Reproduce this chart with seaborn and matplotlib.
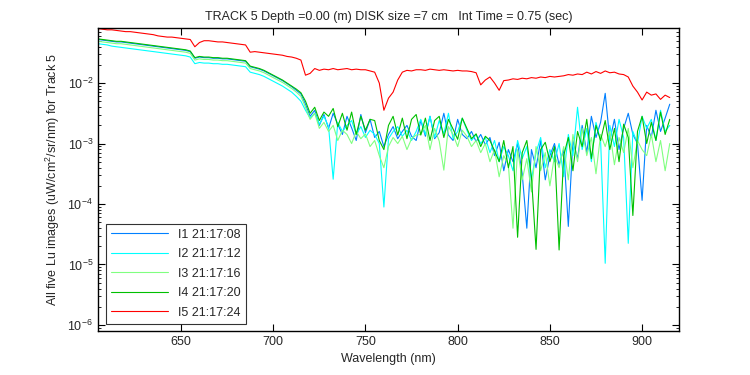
import numpy as np
import pandas as pd
import matplotlib
matplotlib.use("Agg")
import matplotlib.pyplot as plt
import seaborn as sns

# wavelength grid, 2.5 nm steps from 605 to 915
wavelength = np.arange(605, 915.1, 2.5)

# log10 of Lu for each image (rows of 25 nm)
I1 = [-1.28, -1.29, -1.30, -1.31, -1.32, -1.32, -1.33, -1.34, -1.35, -1.36,
      -1.37, -1.38, -1.39, -1.40, -1.41, -1.42, -1.43, -1.44, -1.45, -1.46,
      -1.48, -1.59, -1.57, -1.58, -1.58, -1.59, -1.59, -1.60, -1.60, -1.61,
      -1.62, -1.63, -1.64, -1.73, -1.75, -1.77, -1.80, -1.84, -1.88, -1.92,
      -1.96, -2.01, -2.06, -2.12, -2.18, -2.35, -2.55, -2.45, -2.70, -2.52,
      -2.75, -2.50, -2.68, -2.85, -2.55, -2.74, -2.95, -2.52, -2.82, -2.60,
      -2.90, -2.80, -3.05, -2.85, -2.72, -2.92, -2.80, -2.70, -2.88, -2.95,
      -2.62, -2.88, -2.55, -2.92, -2.82, -2.50, -2.86, -2.95, -2.60, -2.85,
      -2.92, -2.80, -2.97, -2.85, -3.02, -2.90, -3.20, -2.98, -3.45, -3.10,
      -3.30, -3.00, -3.50, -4.40, -3.10, -3.40, -2.95, -3.60, -3.20, -3.00,
      -3.35, -3.10, -4.37, -2.95, -3.25, -2.70, -3.15, -2.55, -2.90, -2.65,
      -2.17, -2.95, -2.60, -3.10, -2.75, -2.50, -2.85, -3.00, -3.94, -2.70,
      -2.90, -2.45, -2.80, -2.58, -2.35]
I2 = [-1.35, -1.36, -1.37, -1.39, -1.40, -1.41, -1.42, -1.43, -1.44, -1.45,
      -1.46, -1.47, -1.48, -1.49, -1.50, -1.51, -1.52, -1.53, -1.54, -1.55,
      -1.57, -1.68, -1.66, -1.67, -1.67, -1.68, -1.68, -1.69, -1.69, -1.70,
      -1.71, -1.72, -1.73, -1.82, -1.84, -1.86, -1.89, -1.93, -1.97, -2.01,
      -2.05, -2.10, -2.15, -2.22, -2.30, -2.45, -2.58, -2.50, -2.68, -2.55,
      -2.72, -3.59, -2.65, -2.80, -2.70, -2.62, -2.85, -2.72, -2.90, -2.78,
      -2.85, -3.00, -4.05, -2.92, -2.80, -2.72, -2.88, -2.78, -2.95, -2.80,
      -2.60, -2.85, -2.55, -2.90, -2.62, -2.84, -2.50, -2.92, -2.80, -2.58,
      -2.78, -2.95, -2.85, -3.00, -2.90, -3.15, -2.95, -3.30, -3.05, -3.20,
      -3.45, -2.95, -3.25, -3.05, -3.60, -3.15, -2.90, -3.40, -3.10, -3.30,
      -3.00, -3.55, -2.85, -3.20, -2.40, -3.10, -2.75, -3.30, -2.65, -2.95,
      -4.98, -2.70, -3.05, -2.60, -2.90, -4.65, -2.80, -3.00, -2.55, -2.75,
      -2.60, -2.95, -2.45, -2.80, -2.70]
I3 = [-1.31, -1.32, -1.33, -1.34, -1.35, -1.35, -1.36, -1.37, -1.38, -1.39,
      -1.40, -1.41, -1.42, -1.43, -1.44, -1.45, -1.46, -1.47, -1.48, -1.49,
      -1.51, -1.62, -1.60, -1.61, -1.61, -1.62, -1.62, -1.63, -1.63, -1.64,
      -1.65, -1.66, -1.67, -1.76, -1.78, -1.80, -1.83, -1.87, -1.91, -1.95,
      -1.99, -2.04, -2.09, -2.15, -2.22, -2.40, -2.60, -2.50, -2.75, -2.65,
      -2.80, -2.70, -2.95, -2.78, -2.85, -3.00, -2.80, -2.92, -2.84, -3.05,
      -2.95, -3.20, -3.40, -3.05, -2.90, -3.00, -2.88, -3.10, -2.92, -2.86,
      -2.85, -2.70, -3.10, -2.75, -2.96, -3.44, -2.72, -2.85, -3.05, -2.78,
      -2.88, -3.05, -2.95, -3.15, -3.00, -3.30, -3.10, -3.55, -3.20, -3.35,
      -4.40, -3.10, -3.60, -3.25, -3.80, -3.05, -3.45, -3.15, -3.70, -3.20,
      -3.40, -3.05, -3.60, -2.85, -3.30, -2.75, -3.20, -2.90, -3.50, -2.85,
      -3.05, -2.80, -3.35, -2.90, -3.15, -2.75, -3.40, -2.95, -3.10, -3.20,
      -2.85, -3.30, -2.95, -3.45, -3.00]
I4 = [-1.27, -1.28, -1.29, -1.30, -1.31, -1.31, -1.32, -1.33, -1.34, -1.35,
      -1.36, -1.37, -1.38, -1.39, -1.40, -1.41, -1.42, -1.43, -1.44, -1.45,
      -1.47, -1.58, -1.56, -1.57, -1.57, -1.58, -1.58, -1.59, -1.59, -1.60,
      -1.61, -1.62, -1.63, -1.72, -1.74, -1.76, -1.79, -1.83, -1.87, -1.91,
      -1.95, -2.00, -2.05, -2.10, -2.16, -2.30, -2.50, -2.40, -2.62, -2.48,
      -2.55, -2.42, -2.72, -2.50, -2.78, -2.48, -2.85, -2.55, -2.78, -2.60,
      -2.62, -2.95, -3.10, -2.70, -2.55, -2.86, -2.58, -2.92, -2.60, -2.52,
      -2.86, -2.58, -2.95, -2.62, -2.55, -2.90, -2.60, -2.76, -2.93, -2.58,
      -2.75, -2.92, -2.84, -3.05, -2.88, -2.95, -3.12, -3.30, -2.95, -3.40,
      -3.05, -4.55, -3.15, -2.95, -3.55, -4.75, -3.10, -2.98, -3.30, -3.05,
      -4.76, -3.20, -2.90, -3.45, -2.80, -3.05, -2.60, -3.25, -2.70, -2.95,
      -2.62, -3.10, -2.75, -3.30, -2.68, -2.90, -4.19, -2.80, -2.55, -3.00,
      -2.65, -2.95, -2.48, -2.85, -2.60]
I5 = [-1.10, -1.11, -1.12, -1.12, -1.13, -1.14, -1.15, -1.15, -1.16, -1.17,
      -1.18, -1.19, -1.20, -1.22, -1.23, -1.24, -1.24, -1.25, -1.26, -1.27,
      -1.28, -1.40, -1.33, -1.30, -1.30, -1.31, -1.32, -1.32, -1.33, -1.34,
      -1.35, -1.36, -1.37, -1.49, -1.48, -1.49, -1.50, -1.51, -1.52, -1.53,
      -1.54, -1.56, -1.57, -1.59, -1.62, -1.87, -1.84, -1.76, -1.79, -1.77,
      -1.78, -1.76, -1.78, -1.77, -1.76, -1.78, -1.77, -1.78, -1.78, -1.80,
      -1.82, -2.00, -2.45, -2.25, -2.15, -1.95, -1.82, -1.79, -1.80, -1.78,
      -1.78, -1.79, -1.77, -1.78, -1.79, -1.78, -1.79, -1.80, -1.79, -1.80,
      -1.80, -1.81, -1.83, -2.03, -1.95, -1.90, -2.00, -2.12, -1.96, -1.95,
      -1.93, -1.94, -1.92, -1.93, -1.91, -1.92, -1.90, -1.91, -1.89, -1.90,
      -1.89, -1.88, -1.86, -1.87, -1.85, -1.86, -1.82, -1.85, -1.81, -1.84,
      -1.80, -1.83, -1.82, -1.85, -1.86, -1.90, -2.05, -2.15, -2.28, -2.15,
      -2.20, -2.18, -2.27, -2.20, -2.24]

labels = ["I1 21:17:08", "I2 21:17:12", "I3 21:17:16", "I4 21:17:20", "I5 21:17:24"]
colors = ["#0080ff", "#00ffff", "#80ff80", "#00c000", "#ff0000"]

frames = []
for lab, vals in zip(labels, [I1, I2, I3, I4, I5]):
    frames.append(pd.DataFrame({"wl": wavelength, "Lu": 10.0 ** np.array(vals), "image": lab}))
df = pd.concat(frames, ignore_index=True)

sns.set_style("ticks")
plt.rcParams["font.family"] = ["Liberation Sans", "DejaVu Sans"]
plt.rcParams["mathtext.fontset"] = "custom"
plt.rcParams["mathtext.rm"] = "Liberation Sans"

fig = plt.figure(figsize=(7.5, 3.75), dpi=100)
ax = fig.add_axes([0.1307, 0.1173, 0.7746, 0.808])

sns.lineplot(data=df, x="wl", y="Lu", hue="image", palette=colors,
             estimator=None, sort=False, linewidth=0.8, ax=ax)

ax.set_yscale("log")
ax.set_xlim(605, 920)
ax.set_ylim(10 ** -6.1, 10 ** -1.09)
ax.set_xticks([650, 700, 750, 800, 850, 900])
ax.tick_params(which="both", direction="in", top=True, right=True, labelsize=9, color="black")
ax.tick_params(which="major", length=5)
ax.tick_params(which="minor", length=2.5)
for sp in ax.spines.values():
    sp.set_color("black")
    sp.set_linewidth(1.0)

ax.set_xlabel("Wavelength (nm)", fontsize=9)
ax.set_ylabel("All five Lu images (uW/cm$^2$/sr/nm) for Track 5", fontsize=9)
ax.set_title("TRACK 5 Depth =0.00 (m) DISK size =7 cm   Int Time = 0.75 (sec)", fontsize=9)

leg = ax.legend(loc="lower left", fontsize=9, handlelength=4.6, frameon=True,
                fancybox=False, edgecolor="black", borderaxespad=0.6, labelspacing=0.6)
leg.get_frame().set_linewidth(0.8)

fig.savefig("out.png", dpi=100)
